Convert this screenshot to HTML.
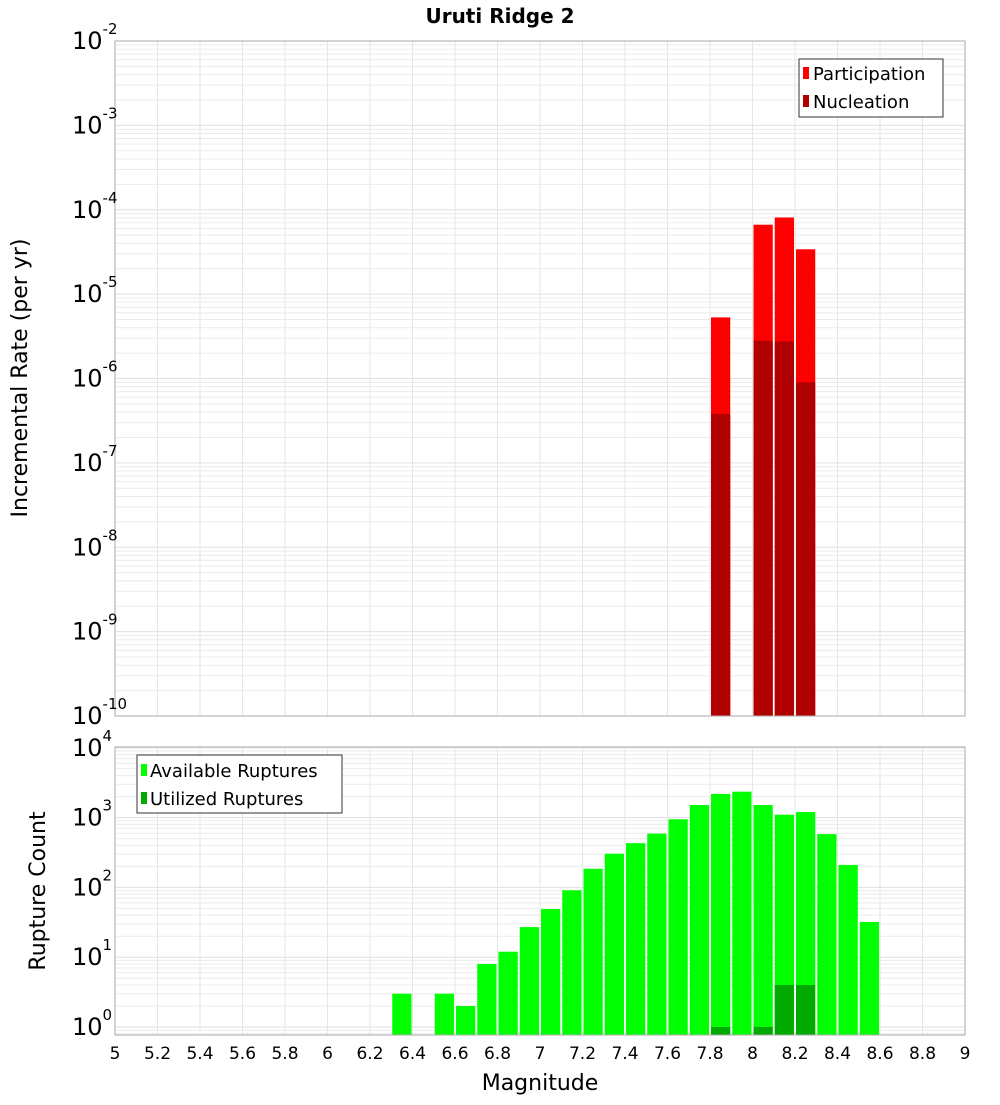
<!DOCTYPE html>
<html><head><meta charset="utf-8"><style>
body{margin:0;background:#fff;font-family:"Liberation Sans","DejaVu Sans",sans-serif}
svg text{font-family:"DejaVu Sans","Liberation Sans",sans-serif}
</style></head><body>
<svg id="c" width="1000" height="1100" xmlns="http://www.w3.org/2000/svg">
<text x="500" y="23" text-anchor="middle" font-size="20" font-weight="bold">Uruti Ridge 2</text>
<g id="top"></g><g id="bot"></g>
<text transform="translate(27,378) rotate(-90)" text-anchor="middle" font-size="22">Incremental Rate (per yr)</text>
<text transform="translate(45,891) rotate(-90)" text-anchor="middle" font-size="22">Rupture Count</text>
<text x="540" y="1090" text-anchor="middle" font-size="22">Magnitude</text>
<g>
<rect x="799" y="59" width="144" height="58" fill="#fff" stroke="#333"/>
<rect x="803" y="67" width="6" height="12" fill="#ff0000"/><text x="813" y="80" font-size="18">Participation</text>
<rect x="803" y="95" width="6" height="12" fill="#b00000"/><text x="813" y="108" font-size="18">Nucleation</text>
</g>
<g>
<rect x="137" y="755" width="205" height="58" fill="#fff" stroke="#333"/>
<rect x="141" y="764" width="6" height="12" fill="#00ff00"/><text x="150" y="777" font-size="18">Available Ruptures</text>
<rect x="141" y="792" width="6" height="12" fill="#00aa00"/><text x="150" y="805" font-size="18">Utilized Ruptures</text>
</g>
</svg>
<script>
const mags=[6.35,6.45,6.55,6.65,6.75,6.85,6.95,7.05,7.15,7.25,7.35,7.45,7.55,7.65,7.75,7.85,7.95,8.05,8.15,8.25,8.35,8.45,8.55];
const available=[3,0,3,2,8,12,27,49,91,185,304,430,590,946,1515,2180,2350,1515,1100,1200,580,210,32];
const utilized=[0,0,0,0,0,0,0,0,0,0,0,0,0,0,0,1,0,1,4,4,0,0,0];
const rateMags=[7.85,8.05,8.15,8.25];
const participation=[5.3e-6,6.65e-5,8.1e-5,3.4e-5];
const nucleation=[3.8e-7,2.8e-6,2.75e-6,9e-7];
const xTicks=[5,5.2,5.4,5.6,5.8,6,6.2,6.4,6.6,6.8,7,7.2,7.4,7.6,7.8,8,8.2,8.4,8.6,8.8,9];
const topExp=[-2,-3,-4,-5,-6,-7,-8,-9,-10];
const botExp=[0,1,2,3,4];
const NS='http://www.w3.org/2000/svg';
const X0=115,X1=965;
const x=m=>X0+(m-5)/4*(X1-X0);
const yT=v=>716-(Math.log10(v)+10)*84.375;
const yB=v=>1027-Math.log10(v)*69.8;
function mk(p,t,a){const e=document.createElementNS(NS,t);for(const k in a)e.setAttribute(k,a[k]);p.appendChild(e);return e;}
function panel(g,top,bot,ys,e0,e1){
  for(let e=e0;e<=e1;e++)for(let k=1;k<10;k++){const yy=ys(k*Math.pow(10,e));if(yy<top-0.5||yy>bot+0.5)continue;
    const l=mk(g,'line',{x1:X0,x2:X1,y1:yy,y2:yy,stroke:k==1?'#e0e0e0':'#ebebeb','stroke-width':1});
    
    }
  xTicks.forEach(t=>{const l=mk(g,'line',{x1:x(t),x2:x(t),y1:top,y2:bot,stroke:'#e6e6e6'});
    
    });
}
const gt=document.getElementById('top'),gb=document.getElementById('bot');
panel(gt,41,716,yT,-10,-2);
panel(gb,747,1035,yB,-1,4);
function bar(g,m,v,ys,base,fill,name){if(!(v>0))return;const y=ys(v);
  const r=mk(g,'rect',{x:x(m-0.05)+1,y:y,width:x(m+0.05)-x(m-0.05)-2,height:base-y,fill:fill});
  
  }
rateMags.forEach((m,i)=>{bar(gt,m,participation[i],yT,716,'#ff0000','participation-bar');bar(gt,m,nucleation[i],yT,716,'#b00000','nucleation-bar');});
mags.forEach((m,i)=>{bar(gb,m,available[i],yB,1035,'#00ff00','available-bar');bar(gb,m,utilized[i],yB,1035,'#00aa00','utilized-bar');});
mk(gt,'rect',{x:X0,y:41,width:X1-X0,height:675,fill:'none',stroke:'#aaa'});
mk(gb,'rect',{x:X0,y:747,width:X1-X0,height:288,fill:'none',stroke:'#aaa'});
topExp.forEach(e=>{const t=mk(gt,'text',{x:72,y:yT(Math.pow(10,e))+8,'font-size':24});
  
  
  t.innerHTML='10<tspan dy="-15" font-size="15">'+e+'</tspan>';});
botExp.forEach(e=>{const t=mk(gb,'text',{x:72,y:yB(Math.pow(10,e))+8,'font-size':24});
  
  
  t.innerHTML='10<tspan dy="-15" font-size="15">'+e+'</tspan>';});
xTicks.forEach(v=>{const t=mk(gb,'text',{x:x(v),y:1059,'text-anchor':'middle','font-size':17});
  
  
  t.textContent=String(v);});
</script>
</body></html>
